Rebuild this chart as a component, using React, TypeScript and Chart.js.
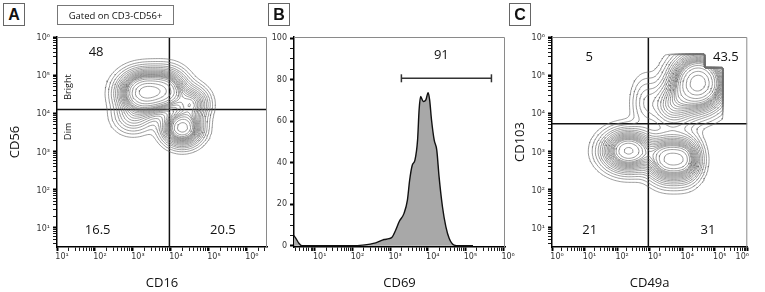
import React, { useEffect, useRef } from 'react';
import { Chart, registerables } from 'chart.js';

Chart.register(...registerables);

// ---------------- Panel A : CD16 vs CD56 (log10 units) ----------------
const popA_cd16 = [3.3, 4.3, 3.9, 4.55, 3.0];
const popA_cd56 = [4.55, 3.62, 4.6, 4.25, 3.9];
const popA_sd16 = [0.36, 0.28, 0.3, 0.25, 0.3];
const popA_sd56 = [0.3, 0.25, 0.3, 0.25, 0.25];
const popA_weight = [1.0, 0.75, 0.55, 0.35, 0.15];
const gateA_cd16 = 3.96;
const gateA_cd56 = 4.1;
const quadA_text = ['48', '16.5', '20.5'];
const quadA_cd16 = [2.03, 2.07, 5.37];
const quadA_cd56 = [5.59, 0.95, 0.95];
const subsetA_text = ['Bright', 'Dim'];
const subsetA_cd56 = [4.69, 3.53];

// ---------------- Panel B : CD69 histogram ----------------
const cd69_exp = [0.45, 0.5, 0.58, 0.66, 1.0, 1.5, 2.0, 2.27, 2.62, 2.84, 2.97, 3.06, 3.15, 3.24, 3.37, 3.46, 3.52, 3.59, 3.66, 3.73, 3.77, 3.81, 3.88, 3.95, 4.01, 4.05, 4.1, 4.17, 4.24, 4.3, 4.39, 4.48, 4.57, 4.7, 4.83, 5.2];
const cd69_pct = [4.8, 3.6, 1.2, 0, 0, 0, 0, 0.3, 1.4, 3.0, 3.4, 4.3, 7.6, 11.6, 15.6, 22, 31.7, 38.9, 41.3, 51, 65.4, 71.9, 69.5, 70.3, 73.8, 70.3, 60.6, 51, 46, 33.3, 18.8, 9.2, 3.5, 0.3, 0, 0];
const gateB_exp = [3.3, 5.69];
const gateB_pct = 80.7;
const gateB_text = '91';
const gateB_labelExp = 4.36;
const gateB_labelPct = 91.6;

// ---------------- Panel C : CD49a vs CD103 (log10 units) ----------------
const popC_cd49a = [4.49, 3.7, 2.35, 3.55, 4.1, 2.85];
const popC_cd103 = [4.8, 4.2, 3.02, 2.8, 2.8, 4.3];
const popC_sd49a = [0.45, 0.4, 0.45, 0.35, 0.28, 0.25];
const popC_sd103 = [0.4, 0.35, 0.3, 0.33, 0.33, 0.4];
const popC_weight = [1.0, 0.25, 0.65, 0.6, 0.4, 0.08];
const ceilC_cd103 = 5.55;
const ceilC_cd49a = 5.23;
const stepC_cd49a = 4.71;
const stepC_cd103 = 5.2;
const gateC_cd49a = 2.96;
const gateC_cd103 = 3.73;
const quadC_text = ['5', '43.5', '21', '31'];
const quadC_cd49a = [1.14, 5.34, 1.16, 4.79];
const quadC_cd103 = [5.48, 5.48, 0.95, 0.95];

// contour levels as fraction of peak density
const contourLevels = [0.015, 0.03, 0.05, 0.075, 0.1, 0.13, 0.16, 0.19, 0.22, 0.25, 0.28, 0.31, 0.34, 0.37, 0.4, 0.45, 0.52, 0.62, 0.75, 0.88];

// axis ranges (log10 decades / percent)
const rangeA_x = [1, 6.53];
const rangeA_y = [0.5, 6];
const rangeB_x = [0.45, 6.05];
const rangeB_y = [-0.6, 100.6];
const rangeC_x = [0, 6];
const rangeC_y = [0.5, 6];

// ---------------- helpers ----------------
const SUP = ['\u2070', '\u00b9', '\u00b2', '\u00b3', '\u2074', '\u2075', '\u2076', '\u2077', '\u2078', '\u2079'];
const TICK_FONT = { family: '"DejaVu Sans", sans-serif', size: 8 };
const TITLE_FONT = { family: '"Open Sans", sans-serif', size: 13 };
const LABEL_FONT = '13px "Open Sans", sans-serif';

function decadeLabel(v: number, padLast?: number) {
  const e = Math.log10(v);
  const r = Math.round(e);
  if (Math.abs(e - r) > 1e-6) return '';
  let s = '10' + SUP[r];
  if (padLast !== undefined && r === padLast) s += '\u2003\u2003\u2002';
  return s;
}

function logTicks(lo: number, hi: number) {
  const out: { value: number; major: boolean }[] = [];
  for (let e = Math.floor(lo); e <= Math.ceil(hi); e++) {
    for (let k = 1; k <= 9; k++) {
      const lv = e + Math.log10(k);
      if (lv >= lo - 1e-9 && lv <= hi + 1e-9) out.push({ value: k * Math.pow(10, e), major: k === 1 });
    }
  }
  return out;
}

function mixture(xs: number[], ys: number[], sx: number[], sy: number[], w: number[]) {
  return (x: number, y: number) => {
    let s = 0;
    for (let i = 0; i < xs.length; i++) {
      const dx = (x - xs[i]) / sx[i];
      const dy = (y - ys[i]) / sy[i];
      s += w[i] * Math.exp(-0.5 * (dx * dx + dy * dy));
    }
    return s;
  };
}

type P = { x: number; y: number };
function contourLines(f: (x: number, y: number) => number, xr: number[], yr: number[], n: number, fracs: number[]): P[][] {
  const [x0, x1] = xr;
  const [y0, y1] = yr;
  const dx = (x1 - x0) / n;
  const dy = (y1 - y0) / n;
  const g: number[][] = [];
  let max = 0;
  for (let i = 0; i <= n; i++) {
    const row: number[] = [];
    for (let j = 0; j <= n; j++) {
      const v = f(x0 + i * dx, y0 + j * dy);
      row.push(v);
      if (v > max) max = v;
    }
    g.push(row);
  }
  const toP = (lx: number, ly: number) => ({ x: Math.pow(10, lx), y: Math.pow(10, ly) });
  return fracs.map((fr) => {
    const L = fr * max;
    const pts: P[] = [];
    for (let i = 0; i < n; i++) {
      for (let j = 0; j < n; j++) {
        const c = [[i, j], [i + 1, j], [i + 1, j + 1], [i, j + 1]];
        const v = c.map(([a, b]) => g[a][b]);
        const hits: (number[] | null)[] = [];
        for (let k = 0; k < 4; k++) {
          const k2 = (k + 1) % 4;
          const va = v[k];
          const vb = v[k2];
          if ((va >= L) !== (vb >= L)) {
            const t = (L - va) / (vb - va);
            const ax = c[k][0], ay = c[k][1], bx = c[k2][0], by = c[k2][1];
            hits.push([x0 + (ax + t * (bx - ax)) * dx, y0 + (ay + t * (by - ay)) * dy]);
          } else hits.push(null);
        }
        const seg = (p: number, q: number) => {
          const hp = hits[p]!;
          const hq = hits[q]!;
          pts.push(toP(hp[0], hp[1]), toP(hq[0], hq[1]), { x: NaN, y: NaN });
        };
        const idx = [0, 1, 2, 3].filter((k) => hits[k]);
        if (idx.length === 2) seg(idx[0], idx[1]);
        else if (idx.length === 4) {
          const center = (v[0] + v[1] + v[2] + v[3]) / 4;
          if ((center >= L) === (v[0] >= L)) {
            seg(0, 1);
            seg(2, 3);
          } else {
            seg(3, 0);
            seg(1, 2);
          }
        }
      }
    }
    return pts;
  });
}

type TextItem = { text: string; x: number; y: number; font: string; rot?: number };

function makeTextPlugin(items: TextItem[]) {
  return {
    id: 'panelText',
    afterDatasetsDraw(chart: any) {
      const { ctx } = chart;
      const xs = chart.scales.x;
      const ys = chart.scales.y;
      for (const t of items) {
        ctx.save();
        ctx.font = t.font;
        ctx.fillStyle = '#111';
        ctx.textAlign = 'center';
        ctx.textBaseline = 'middle';
        ctx.translate(xs.getPixelForValue(t.x), ys.getPixelForValue(t.y));
        if (t.rot) ctx.rotate(t.rot);
        ctx.fillText(t.text, 0, 0);
        ctx.restore();
      }
    },
  };
}

const framePlugin = {
  id: 'frame',
  afterDraw(chart: any) {
    const { ctx, chartArea: a } = chart;
    ctx.save();
    ctx.strokeStyle = '#8a8a8a';
    ctx.lineWidth = 1;
    ctx.beginPath();
    ctx.moveTo(a.left, a.top + 0.5);
    ctx.lineTo(a.right - 0.5, a.top + 0.5);
    ctx.lineTo(a.right - 0.5, a.bottom);
    ctx.stroke();
    ctx.restore();
  },
};

function gridOpts() {
  return {
    drawOnChartArea: false,
    drawTicks: true,
    tickLength: 4,
    tickColor: '#000',
    tickWidth: (c: any) => (c.tick && c.tick.major ? 2 : 0.9),
  };
}

function logXAxis(range: number[], title: string, padLast?: number) {
  return {
    type: 'logarithmic',
    min: Math.pow(10, range[0]),
    max: Math.pow(10, range[1]),
    afterBuildTicks: (s: any) => {
      s.ticks = logTicks(range[0], range[1]);
    },
    afterFit: (s: any) => {
      s.height = 45;
    },
    ticks: {
      autoSkip: false,
      maxRotation: 0,
      minRotation: 0,
      padding: 1,
      labelOffset: 5,
      font: TICK_FONT,
      color: '#333',
      callback: (v: number) => decadeLabel(v, padLast),
    },
    grid: gridOpts(),
    border: { display: true, color: '#000', width: 1.5 },
    title: { display: true, text: title, font: TITLE_FONT, color: '#111', padding: { top: 0, bottom: 1 } },
  };
}

function logYAxis(range: number[], title: string, width: number) {
  return {
    type: 'logarithmic',
    min: Math.pow(10, range[0]),
    max: Math.pow(10, range[1]),
    afterBuildTicks: (s: any) => {
      s.ticks = logTicks(range[0], range[1]);
    },
    afterFit: (s: any) => {
      s.width = width;
    },
    ticks: {
      autoSkip: false,
      padding: 3,
      labelOffset: 1,
      font: TICK_FONT,
      color: '#333',
      callback: (v: number) => decadeLabel(v),
    },
    grid: gridOpts(),
    border: { display: true, color: '#000', width: 1.5 },
    title: { display: true, text: title, font: TITLE_FONT, color: '#111', padding: { top: 7, bottom: 0 } },
  };
}

function contourDatasets(lines: P[][]) {
  return lines.map((pts) => ({
    data: pts,
    borderColor: 'rgba(110,110,110,0.85)',
    borderWidth: 0.8,
    pointRadius: 0,
    fill: false,
    tension: 0,
    spanGaps: false,
  }));
}

function gateLines(gx: number, gy: number, xr: number[], yr: number[]) {
  const X = Math.pow(10, gx);
  const Y = Math.pow(10, gy);
  const common = { borderColor: '#111', borderWidth: 1.5, pointRadius: 0, fill: false, tension: 0 };
  return [
    { ...common, data: [{ x: X, y: Math.pow(10, yr[0]) }, { x: X, y: Math.pow(10, yr[1]) }] },
    { ...common, data: [{ x: Math.pow(10, xr[0]), y: Y }, { x: Math.pow(10, xr[1]), y: Y }] },
  ];
}

const baseOptions = (padding: any) => ({
  animation: false,
  responsive: false,
  events: [],
  layout: { padding },
  plugins: { legend: { display: false }, tooltip: { enabled: false } },
});

function makeA(): any {
  const f = mixture(popA_cd16, popA_cd56, popA_sd16, popA_sd56, popA_weight);
  const lines = contourLines(f, rangeA_x, rangeA_y, 130, contourLevels);
  const texts: TextItem[] = quadA_text.map((t, i) => ({ text: t, x: Math.pow(10, quadA_cd16[i]), y: Math.pow(10, quadA_cd56[i]), font: LABEL_FONT }));
  subsetA_text.forEach((t, i) => texts.push({ text: t, x: Math.pow(10, 1.3), y: Math.pow(10, subsetA_cd56[i]), font: '9px "Open Sans", sans-serif', rot: -Math.PI / 2 }));
  return {
    type: 'line',
    data: { datasets: [...contourDatasets(lines), ...gateLines(gateA_cd16, gateA_cd56, rangeA_x, rangeA_y)] },
    options: {
      ...baseOptions({ top: 37, right: 3, left: 0, bottom: 0 }),
      scales: { x: logXAxis(rangeA_x, 'CD16'), y: logYAxis(rangeA_y, 'CD56', 57) },
    },
    plugins: [framePlugin, makeTextPlugin(texts)],
  };
}

function makeB(): any {
  const hist = cd69_exp.map((e, i) => ({ x: Math.pow(10, e), y: cd69_pct[i] }));
  const gate = gateB_exp.map((e) => ({ x: Math.pow(10, e), y: gateB_pct }));
  const texts: TextItem[] = [{ text: gateB_text, x: Math.pow(10, gateB_labelExp), y: gateB_labelPct, font: LABEL_FONT }];
  const yTicks: { value: number; major: boolean }[] = [];
  for (let v = 0; v <= 100; v += 5) yTicks.push({ value: v, major: v % 20 === 0 });
  return {
    type: 'line',
    data: {
      datasets: [
        {
          data: hist,
          borderColor: '#111',
          borderWidth: 1.4,
          backgroundColor: '#a8a8a8',
          fill: 'origin',
          pointRadius: 0,
          cubicInterpolationMode: 'monotone',
        },
        {
          data: gate,
          borderColor: '#333',
          borderWidth: 1.5,
          pointStyle: 'line',
          rotation: 90,
          pointRadius: 4,
          pointBorderWidth: 1.5,
          pointBorderColor: '#333',
          fill: false,
        },
      ],
    },
    options: {
      ...baseOptions({ top: 37, right: 15, left: 0, bottom: 0 }),
      scales: {
        x: logXAxis(rangeB_x, 'CD69'),
        y: {
          type: 'linear',
          min: rangeB_y[0],
          max: rangeB_y[1],
          afterBuildTicks: (s: any) => {
            s.ticks = yTicks.map((t) => ({ ...t }));
          },
          afterFit: (s: any) => {
            s.width = 32;
          },
          ticks: {
            autoSkip: false,
            padding: 3,
            font: TICK_FONT,
            color: '#333',
            callback: (v: number) => (v % 20 === 0 ? String(v) : ''),
          },
          grid: gridOpts(),
          border: { display: true, color: '#000', width: 1.5 },
        },
      },
    },
    plugins: [framePlugin, makeTextPlugin(texts)],
  };
}

function makeC(): any {
  const mix = mixture(popC_cd49a, popC_cd103, popC_sd49a, popC_sd103, popC_weight);
  const f = (x: number, y: number) =>
    y > ceilC_cd103 || x > ceilC_cd49a || (x > stepC_cd49a && y > stepC_cd103) ? 0 : mix(x, y);
  const lines = contourLines(f, rangeC_x, rangeC_y, 140, contourLevels);
  const texts: TextItem[] = quadC_text.map((t, i) => ({ text: t, x: Math.pow(10, quadC_cd49a[i]), y: Math.pow(10, quadC_cd103[i]), font: LABEL_FONT }));
  return {
    type: 'line',
    data: { datasets: [...contourDatasets(lines), ...gateLines(gateC_cd49a, gateC_cd103, rangeC_x, rangeC_y)] },
    options: {
      ...baseOptions({ top: 37, right: 3, left: 0, bottom: 0 }),
      scales: { x: logXAxis(rangeC_x, 'CD49a', 6), y: logYAxis(rangeC_y, 'CD103', 47) },
    },
    plugins: [framePlugin, makeTextPlugin(texts)],
  };
}

function PanelChart({ left, width, make }: { left: number; width: number; make: () => any }) {
  const ref = useRef<HTMLCanvasElement>(null);
  useEffect(() => {
    const chart = new Chart(ref.current as HTMLCanvasElement, make());
    return () => chart.destroy();
  }, []);
  return <canvas ref={ref} width={width} height={292} style={{ position: 'absolute', left, top: 0, width, height: 292 }} />;
}

const letterStyle = (left: number): React.CSSProperties => ({
  position: 'absolute',
  left,
  top: 3,
  width: 20,
  height: 21,
  border: '1px solid #666',
  font: 'bold 16px "Liberation Sans", Arial, sans-serif',
  color: '#111',
  display: 'flex',
  alignItems: 'center',
  justifyContent: 'center',
  background: '#fff',
  zIndex: 2,
});

export default function App() {
  useEffect(() => {
    document.body.style.margin = '0';
  }, []);
  return (
    <div style={{ position: 'fixed', left: 0, top: 0, width: 765, height: 292, background: '#fff', overflow: 'hidden' }}>
      <PanelChart left={0} width={270} make={makeA} />
      <PanelChart left={262} width={258} make={makeB} />
      <PanelChart left={505} width={260} make={makeC} />
      <div style={letterStyle(3)}>A</div>
      <div style={letterStyle(268)}>B</div>
      <div style={letterStyle(509)}>C</div>
      <div
        style={{
          position: 'absolute',
          left: 57,
          top: 5,
          width: 115,
          height: 18,
          border: '1px solid #777',
          font: '9.5px "Open Sans", sans-serif',
          color: '#111',
          display: 'flex',
          alignItems: 'center',
          justifyContent: 'center',
          background: '#fff',
          zIndex: 2,
        }}
      >
        Gated on CD3-CD56+
      </div>
    </div>
  );
}
